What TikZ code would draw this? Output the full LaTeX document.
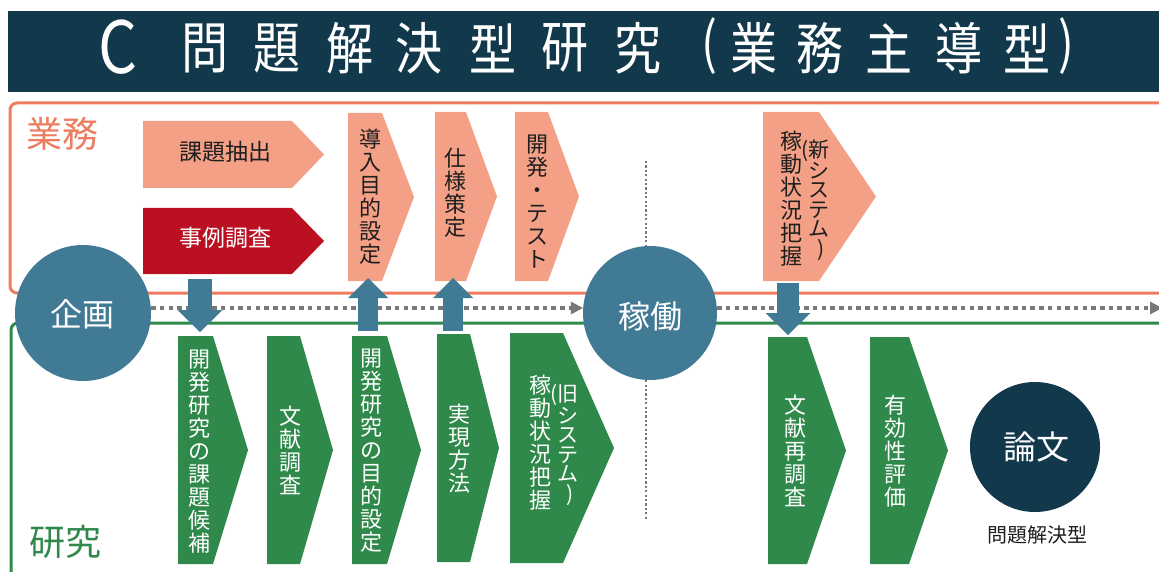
\documentclass[tikz,border=0pt]{standalone}
\usepackage{fontspec}
\setmainfont{Noto Sans CJK JP}
\usetikzlibrary{arrows.meta}
\definecolor{navy}{RGB}{18,57,75}
\definecolor{orbrd}{RGB}{237,125,97}
\definecolor{salmon}{RGB}{243,160,134}
\definecolor{crim}{RGB}{186,16,34}
\definecolor{grn}{RGB}{46,137,74}
\definecolor{steel}{RGB}{65,122,148}
\definecolor{dotg}{RGB}{120,120,120}
\definecolor{ink}{RGB}{30,30,30}
\newcommand\mychev[7]{%
  \fill[#7] (#2,#5) -- (#3,#5) -- (#4,{(#5+#6)/2}) -- (#3,#6) -- (#2,#6) -- cycle;
  \node[inner sep=0pt,minimum width={(#4-#2)*1pt},minimum height={(#6-#5)*1pt}] (#1) at ({(#2+#4)/2},{(#5+#6)/2}) {};
}
\begin{document}
\begin{tikzpicture}[x=1pt,y=-1pt,
  vt/.style={align=center,inner sep=0pt,font=\fontsize{22}{23}\selectfont},
  vts/.style={align=center,inner sep=0pt,font=\fontsize{21}{19.5}\selectfont},
  ht/.style={inner sep=0pt,font=\fontsize{23}{25}\selectfont},
  ttl/.style={inner sep=0pt,text=white,font=\fontsize{56}{56}\selectfont},
  dotline/.style={draw=dotg,line width=4.5pt,dash pattern=on 4.5pt off 4.2pt,
    -{Triangle[width=13pt,length=12pt,line width=0pt]}},
  vdot/.style={draw=dotg,line width=2.5pt,dash pattern=on 2.2pt off 2.2pt},
  barrow/.style={draw=steel,line width=#1,-{Triangle[width=45pt,length=22pt,line width=0pt]}},
  uarrow/.style={draw=steel,line width=20pt,-{Triangle[width=40pt,length=20pt,line width=0pt]}},
  bigcirc/.style={circle,inner sep=0pt,text=white,font=\fontsize{32}{34}\selectfont}
]
\useasboundingbox (0,0) rectangle (1159,572);
\clip (0,0) rectangle (1159,572);
\fill[white] (0,0) rectangle (1159,572);

% title bar
\fill[navy] (8,11) rectangle (1170,92);
\node[inner sep=0pt,text=white,font=\fontsize{72}{72}\selectfont] (tC) at (118,47) {\scalebox{0.85}[1]{C}};
\foreach \ch/\x [count=\i] in {問/205,題/277,解/350,決/419,型/493,研/565,究/638,業/754,務/820,主/889,導/959,型/1027}
  \node[ttl] (title\i) at (\x,48) {\scalebox{0.84}[1]{\ch}};
\node[ttl] (tpl) at (709,46) {\scalebox{0.84}[1]{(}};
\node[ttl] (tpr) at (1066,46) {\scalebox{0.84}[1]{)}};

% frames
\draw[orbrd,line width=3pt,rounded corners=7pt] (10,103) rectangle (1180,293);
\draw[grn,line width=3pt,rounded corners=7pt] (11,323) rectangle (1180,600);
\node[inner sep=0pt,text=orbrd,font=\fontsize{36}{38}\selectfont] (gyomu) at (63,134) {業務};
\node[inner sep=0pt,text=grn,font=\fontsize{36}{38}\selectfont] (kenkyu) at (65,542) {研究};

% upper chevrons
\mychev{kadai}{143}{292}{324}{121}{188}{salmon}
\mychev{jirei}{143}{292}{324}{208}{274}{crim}
\mychev{dounyu}{348}{382}{414}{113}{281}{salmon}
\mychev{shiyou}{435}{466}{497}{112}{281}{salmon}
\mychev{kaihatsu}{515}{548}{579}{112}{281}{salmon}
\mychev{shinkadou}{763}{819}{876}{112}{281}{salmon}

% lower chevrons
\mychev{kouho}{178}{213}{248}{336}{564}{grn}
\mychev{bunken}{267}{300}{333}{336}{564}{grn}
\mychev{mokuteki}{352}{387}{421}{336}{564}{grn}
\mychev{jitsugen}{437}{470}{499}{334}{562}{grn}
\mychev{kyukadou}{510}{563}{614}{333}{563}{grn}
\mychev{saichousa}{768}{807}{846}{337}{564}{grn}
\mychev{yukou}{870}{909}{948}{337}{564}{grn}

% circles (placed first as nodes for anchors)
\path (83,313) node[bigcirc,minimum size=136pt] (kikaku) {}
      (650,313) node[bigcirc,minimum size=134pt] (kadou) {}
      (1035,447) node[bigcirc,minimum size=130pt] (ronbun) {};

% dotted lines
\coordinate (vtop) at (646,161);
\coordinate (vbot) at (646,520);
\draw[vdot] (vtop) -- (vtop |- kadou.north);
\draw[vdot] (vbot |- kadou.south) -- (vbot);
\coordinate (rend) at (1162,308);
\draw[dotline] ([yshift=5pt]kikaku.east) -- ([yshift=5pt]kadou.west);
\draw[dotline] ([yshift=5pt]kadou.east) -- (rend);

% block arrows
\coordinate (a1s) at (200,279); \coordinate (a1e) at (200,332);
\coordinate (a2s) at (368,331); \coordinate (a2e) at (368,278);
\coordinate (a3s) at (453,331); \coordinate (a3e) at (453,278);
\coordinate (a4s) at (788,283); \coordinate (a4e) at (788,335);
\draw[barrow=24pt] (a1s) -- (a1e);
\draw[uarrow] (a2s) -- (a2e);
\draw[uarrow] (a3s) -- (a3e);
\draw[barrow=22pt] (a4s) -- (a4e);

% circles drawn
\fill[steel] (kikaku.center) circle (68pt);
\fill[steel] (kadou.center) circle (67pt);
\fill[navy] (ronbun.center) circle (65pt);
\node[bigcirc] (tkikaku) at (82,314) {企画};
\node[bigcirc] (tkadou) at (650,316) {稼働};
\node[bigcirc,font=\fontsize{33}{35}\selectfont] (tronbun) at (1036,447) {論文};
\node[inner sep=0pt,text=ink,font=\fontsize{20}{22}\selectfont] (mondai) at (1037,535) {問題解決型};

% texts upper
\node[ht,text=ink] (tkadai) at (225,152) {課題抽出};
\node[ht,text=white] (tjirei) at (225,238) {事例調査};
\node[vt,text=ink] (tdounyu) at (370,197) {導\\入\\目\\的\\設\\定};
\node[vt,text=ink] (tshiyou) at (455,193) {仕\\様\\策\\定};
\node[vt,text=ink] (tkaihatsu) at (537,202) {開\\発\\・\\テ\\ス\\ト};
\node[vt,text=ink] (tshin1) at (791,199) {稼\\動\\状\\況\\把\\握};
\node[vts,text=ink] (tshin2) at (819,200) {\llap{(}新\\シ\\ス\\テ\\ム\\\hspace*{5pt})};

% texts lower
\node[vt,text=white] (tkouho) at (199,452) {開\\発\\研\\究\\の\\課\\題\\候\\補};
\node[vt,text=white] (tbunken) at (290,450) {文\\献\\調\\査};
\node[vt,text=white] (tmokuteki) at (371,451) {開\\発\\研\\究\\の\\目\\的\\設\\定};
\node[vt,text=white] (tjitsugen) at (459,449) {実\\現\\方\\法};
\node[vt,text=white] (tkyu1) at (540,443) {稼\\動\\状\\況\\把\\握};
\node[vts,text=white] (tkyu2) at (568,445) {\llap{(}旧\\シ\\ス\\テ\\ム\\\hspace*{5pt})};
\node[vt,text=white] (tsai) at (795,451) {文\\献\\再\\調\\査};
\node[vt,text=white] (tyukou) at (895,451) {有\\効\\性\\評\\価};
\end{tikzpicture}
\end{document}
